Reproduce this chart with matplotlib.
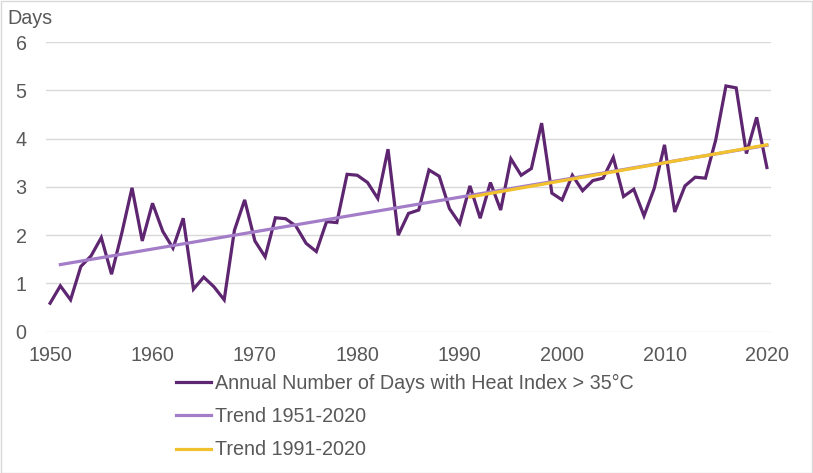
import matplotlib
matplotlib.use("Agg")
import matplotlib.pyplot as plt
import numpy as np

years = list(range(1950, 2021))
days = [0.59, 0.95, 0.66, 1.35, 1.57, 1.95, 1.19, 2.04, 2.98, 1.88,
        2.66, 2.08, 1.73, 2.35, 0.88, 1.13, 0.93, 0.66, 2.10, 2.73,
        1.88, 1.55, 2.36, 2.34, 2.19, 1.83, 1.66, 2.28, 2.26, 3.26,
        3.24, 3.09, 2.76, 3.78, 2.00, 2.45, 2.52, 3.35, 3.22, 2.55,
        2.24, 3.02, 2.35, 3.09, 2.52, 3.58, 3.24, 3.38, 4.32, 2.87,
        2.73, 3.24, 2.92, 3.13, 3.18, 3.61, 2.80, 2.95, 2.40, 2.97,
        3.87, 2.48, 3.02, 3.20, 3.18, 3.97, 5.09, 5.05, 3.69, 4.44,
        3.40]
trend_all_years = [1951, 2020]
trend_all_vals = [1.39, 3.86]
trend_recent_years = [1991, 2020]
trend_recent_vals = [2.79, 3.87]

labels = ["Annual Number of Days with Heat Index > 35°C",
          "Trend 1951-2020", "Trend 1991-2020"]
yticks = [0, 1, 2, 3, 4, 5, 6]
xticks = [1950, 1960, 1970, 1980, 1990, 2000, 2010, 2020]

plt.rcParams['font.family'] = ['Liberation Sans', 'DejaVu Sans']
text_color = '#595959'
fs = 14.2

fig = plt.figure(figsize=(8.13, 4.73), dpi=100)
ax = fig.add_axes([46/813, 141.3/473, (771-46)/813, (331.7-42)/473])

c_main = '#5E2571'
c_trend = '#A47DC9'
c_recent = '#F2C12E'

l1, = ax.plot(years, days, color=c_main, lw=2.3, zorder=3, solid_joinstyle='miter')
l2, = ax.plot(trend_all_years, trend_all_vals, color=c_trend, lw=2.3, zorder=4)
l3, = ax.plot(trend_recent_years, trend_recent_vals, color=c_recent, lw=2.3, zorder=5)

ax.set_xlim(1949.6, 2020.4)
ax.set_ylim(0, 6)
ax.set_yticks(yticks)
ax.set_xticks(xticks)
ax.yaxis.grid(True, color='#D9D9D9', lw=1)
ax.set_axisbelow(True)
for s in ax.spines.values():
    s.set_visible(False)
ax.tick_params(axis='both', length=0, labelsize=fs, labelcolor=text_color)
ax.tick_params(axis='y', pad=14)
ax.tick_params(axis='x', pad=10)

fig.text(7/813, 1 - 19/473, "Days", fontsize=fs, color=text_color, va='center', ha='left')

leg = fig.legend([l1, l2, l3], labels, loc='upper left',
                 bbox_to_anchor=(176/813, 1 - 374/473), frameon=False,
                 fontsize=fs, labelcolor=text_color, handlelength=1.75,
                 handletextpad=0.25, labelspacing=0.72, borderaxespad=0,
                 borderpad=0)

# outer border
fig.patches.append(plt.Rectangle((0.5/813, 0.5/473), 1 - 2/813, 1 - 2/473,
                                 transform=fig.transFigure, fill=False,
                                 edgecolor='#D9D9D9', lw=1))

fig.savefig("out.png", dpi=100)
